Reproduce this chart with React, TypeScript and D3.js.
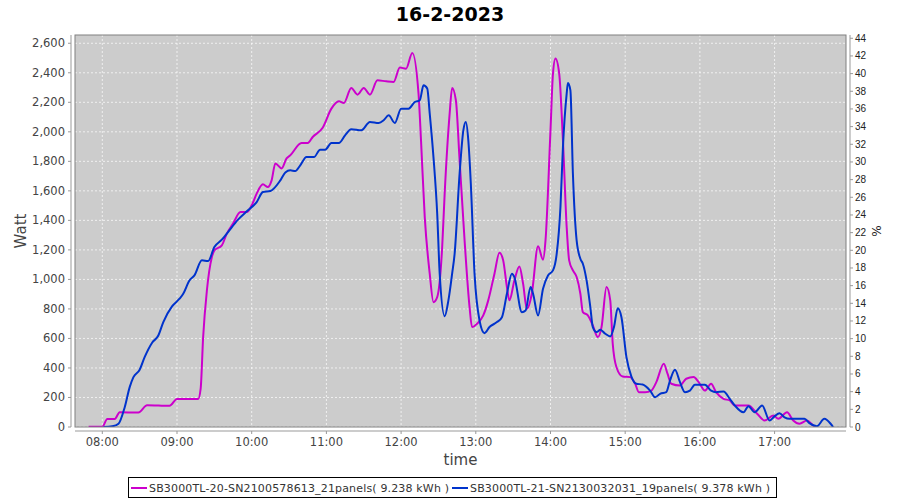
import React from "react";
import * as d3 from "d3";

const title = "16-2-2023";
const seriesNames = [
  "SB3000TL-20-SN2100578613_21panels( 9.238 kWh )",
  "SB3000TL-21-SN2130032031_19panels( 9.378 kWh )",
];
const seriesColors = ["#cc00cc", "#0033cc"];
const leftTicks = [0, 200, 400, 600, 800, 1000, 1200, 1400, 1600, 1800, 2000, 2200, 2400, 2600];
const rightTicks = [0, 2, 4, 6, 8, 10, 12, 14, 16, 18, 20, 22, 24, 26, 28, 30, 32, 34, 36, 38, 40, 42, 44];
const hourTicks = ["08:00", "09:00", "10:00", "11:00", "12:00", "13:00", "14:00", "15:00", "16:00", "17:00"];

const magentaTimes = [
  "07:49", "08:00", "08:04", "08:10", "08:14", "08:29", "08:36", "08:54", "09:00", "09:17",
  "09:19", "09:21", "09:24", "09:28", "09:30", "09:36", "09:40", "09:45", "09:51", "09:56",
  "10:00", "10:04", "10:09", "10:13", "10:16", "10:19", "10:24", "10:28", "10:31", "10:40",
  "10:45", "10:49", "10:57", "11:04", "11:10", "11:14", "11:20", "11:25", "11:30", "11:35",
  "11:41", "11:48", "11:54", "11:59", "12:04", "12:09", "12:14", "12:16", "12:19", "12:23",
  "12:26", "12:29", "12:33", "12:35", "12:39", "12:41", "12:44", "12:47", "12:51", "12:55",
  "12:57", "13:01", "13:06", "13:10", "13:15", "13:19", "13:22", "13:25", "13:27", "13:31",
  "13:35", "13:38", "13:41", "13:45", "13:50", "13:54", "13:56", "14:00", "14:02", "14:04",
  "14:07", "14:10", "14:13", "14:15", "14:18", "14:21", "14:24", "14:26", "14:30", "14:34",
  "14:38", "14:41", "14:45", "14:48", "14:50", "14:53", "14:58", "15:04", "15:08", "15:11",
  "15:16", "15:21", "15:25", "15:31", "15:34", "15:37", "15:44", "15:49", "15:55", "15:59",
  "16:04", "16:09", "16:13", "16:19", "16:24", "16:28", "16:39", "16:46", "16:52", "16:59",
  "17:03", "17:10", "17:15", "17:20", "17:26", "17:31", "17:33",
];
const magentaValues = [
  2, 2, 55, 55, 100, 98, 148, 144, 190, 190,
  260, 609, 925, 1151, 1197, 1231, 1310, 1378, 1456, 1456,
  1502, 1581, 1644, 1626, 1671, 1786, 1752, 1820, 1841, 1924,
  1924, 1965, 2028, 2157, 2207, 2195, 2297, 2252, 2297, 2252,
  2349, 2342, 2338, 2435, 2428, 2534, 2259, 1942, 1422, 1039,
  846, 880, 1219, 1581, 2123, 2297, 2214, 1807, 1264, 812,
  677, 700, 756, 858, 1039, 1181, 1129, 948, 858, 993,
  1088, 971, 801, 903, 1224, 1134, 1264, 2010, 2395, 2496,
  2395, 1942, 1355, 1129, 1061, 1016, 903, 778, 756, 688,
  609, 677, 948, 858, 564, 405, 342, 338, 293, 236,
  236, 247, 304, 428, 361, 293, 281, 327, 338, 304,
  247, 293, 236, 191, 180, 146, 146, 90, 44, 78,
  56, 100, 44, 22, 44, 10, 0,
];

const blueTimes = [
  "08:01", "08:08", "08:13", "08:18", "08:22", "08:25", "08:30", "08:34", "08:40", "08:45",
  "08:49", "08:56", "09:02", "09:05", "09:10", "09:14", "09:20", "09:25", "09:30", "09:36",
  "09:41", "09:49", "09:57", "10:04", "10:09", "10:15", "10:23", "10:27", "10:31", "10:35",
  "10:39", "10:44", "10:50", "10:55", "10:59", "11:04", "11:10", "11:15", "11:20", "11:28",
  "11:35", "11:42", "11:46", "11:50", "11:55", "12:00", "12:06", "12:11", "12:15", "12:18",
  "12:21", "12:23", "12:26", "12:29", "12:31", "12:35", "12:38", "12:41", "12:43", "12:47",
  "12:50", "12:52", "12:54", "12:56", "12:59", "13:03", "13:07", "13:11", "13:17", "13:21",
  "13:25", "13:29", "13:31", "13:37", "13:40", "13:44", "13:46", "13:50", "13:54", "13:58",
  "14:02", "14:05", "14:08", "14:10", "14:13", "14:14", "14:16", "14:18", "14:21", "14:24",
  "14:26", "14:29", "14:32", "14:34", "14:37", "14:40", "14:44", "14:48", "14:51", "14:54",
  "14:57", "15:01", "15:05", "15:09", "15:14", "15:20", "15:24", "15:28", "15:33", "15:36",
  "15:40", "15:44", "15:48", "15:52", "15:56", "16:04", "16:09", "16:13", "16:19", "16:24",
  "16:28", "16:35", "16:39", "16:44", "16:50", "16:56", "17:00", "17:04", "17:08", "17:12",
  "17:24", "17:28", "17:34", "17:40", "17:45", "17:47",
];
const blueValues = [
  0, 5, 22, 134, 270, 338, 388, 473, 571, 620,
  711, 817, 869, 903, 993, 1027, 1129, 1124, 1219, 1269,
  1321, 1405, 1468, 1524, 1592, 1599, 1671, 1725, 1739, 1734,
  1773, 1829, 1829, 1879, 1879, 1924, 1924, 1976, 2017, 2010,
  2067, 2060, 2078, 2112, 2060, 2157, 2157, 2202, 2214, 2315,
  2293, 2123, 1829, 1446, 1039, 751, 858, 1039, 1174, 1717,
  2010, 2067, 1942, 1650, 1039, 722, 636, 677, 711, 744,
  903, 1039, 1016, 778, 790, 948, 903, 756, 937, 1027,
  1061, 1174, 1490, 1897, 2259, 2331, 2281, 1717, 1264, 1140,
  1106, 993, 812, 677, 643, 659, 632, 614, 677, 805,
  744, 473, 342, 293, 288, 247, 202, 225, 236, 315,
  388, 304, 236, 247, 286, 286, 247, 236, 241, 191,
  146, 100, 141, 100, 146, 44, 73, 94, 66, 56,
  56, 26, 5, 56, 22, 0,
];

const W = 900;
const H = 500;
const plot = { left: 75, right: 846, top: 35, bottom: 427 };

const parse = (s: string) => {
  const [h, m] = s.split(":").map(Number);
  return new Date(2023, 1, 16, h, m);
};

export default function App() {
  const x = d3
    .scaleTime()
    .domain([new Date(2023, 1, 16, 7, 38, 4), new Date(2023, 1, 16, 17, 57, 22)])
    .range([plot.left, plot.right]);
  const y = d3.scaleLinear().domain([0, 2656]).range([plot.bottom, plot.top]);
  const yR = d3.scaleLinear().domain([0, 44.37]).range([plot.bottom, plot.top]);

  const line = d3
    .line<[Date, number]>()
    .x((d) => x(d[0]))
    .y((d) => y(d[1]))
    .curve(d3.curveMonotoneX);

  const series = [
    magentaTimes.map((t, i) => [parse(t), magentaValues[i]] as [Date, number]),
    blueTimes.map((t, i) => [parse(t), blueValues[i]] as [Date, number]),
  ];

  const font = "'DejaVu Sans', sans-serif";
  const axisColor = "#444";

  return (
    <svg width={W} height={H} style={{ position: "absolute", left: 0, top: 0, background: "#fff" }}>
      <text x={450} y={21} textAnchor="middle" fontFamily={font} fontWeight="bold" fontSize={19} fill="#000">
        {title}
      </text>
      <rect x={plot.left} y={plot.top} width={plot.right - plot.left} height={plot.bottom - plot.top} fill="#cccccc" />
      <clipPath id="clip">
        <rect x={plot.left} y={plot.top} width={plot.right - plot.left} height={plot.bottom - plot.top} />
      </clipPath>
      {leftTicks.map((v) => (
        <line key={"gy" + v} x1={plot.left} x2={plot.right} y1={y(v)} y2={y(v)} stroke="#fff" strokeWidth={0.7} strokeDasharray="2,2" />
      ))}
      {hourTicks.map((t) => (
        <line key={"gx" + t} x1={x(parse(t))} x2={x(parse(t))} y1={plot.top} y2={plot.bottom} stroke="#fff" strokeWidth={0.7} strokeDasharray="2,2" />
      ))}
      <g clipPath="url(#clip)">
        {series.map((s, i) => (
          <path key={i} d={line(s) || ""} fill="none" stroke={seriesColors[i]} strokeWidth={2} strokeLinejoin="round" />
        ))}
      </g>
      <rect x={plot.left} y={plot.top} width={plot.right - plot.left} height={plot.bottom - plot.top} fill="none" stroke="#808080" strokeWidth={1} />

      {/* left axis */}
      <line x1={71} x2={71} y1={plot.top} y2={plot.bottom} stroke="#999" />
      {leftTicks.map((v) => (
        <g key={"ly" + v}>
          <line x1={68} x2={71} y1={y(v)} y2={y(v)} stroke="#999" />
          <text x={65} y={y(v) + 4} textAnchor="end" fontFamily={font} fontSize={11.5} fill={axisColor}>
            {d3.format(",")(v)}
          </text>
        </g>
      ))}
      <text transform={`translate(26,${(plot.top + plot.bottom) / 2}) rotate(-90)`} textAnchor="middle" fontFamily={font} fontSize={15} fill={axisColor}>
        Watt
      </text>

      {/* right axis */}
      <line x1={850} x2={850} y1={plot.top} y2={plot.bottom} stroke="#999" />
      {rightTicks.map((v) => (
        <g key={"ry" + v}>
          <line x1={850} x2={853} y1={yR(v)} y2={yR(v)} stroke="#999" />
          <text x={855} y={yR(v) + 3.5} textAnchor="start" fontFamily="'Liberation Sans', sans-serif" fontSize={10} fill="#222">
            {v}
          </text>
        </g>
      ))}
      <text transform={`translate(881,${(plot.top + plot.bottom) / 2}) rotate(-90)`} textAnchor="middle" fontFamily={font} fontSize={12} fill="#222">
        %
      </text>

      {/* bottom axis */}
      <line x1={plot.left} x2={plot.right} y1={431} y2={431} stroke="#999" />
      {hourTicks.map((t) => (
        <g key={"bx" + t}>
          <line x1={x(parse(t))} x2={x(parse(t))} y1={431} y2={434} stroke="#999" />
          <text x={x(parse(t))} y={446} textAnchor="middle" fontFamily={font} fontSize={11.5} fill={axisColor}>
            {t}
          </text>
        </g>
      ))}
      <text x={(plot.left + plot.right) / 2} y={465} textAnchor="middle" fontFamily={font} fontSize={15} fill={axisColor}>
        time
      </text>

      {/* legend */}
      <rect x={128.5} y={477.5} width={648} height={20} fill="#fff" stroke="#000" />
      <line x1={131} x2={147} y1={488} y2={488} stroke={seriesColors[0]} strokeWidth={2} />
      <text x={149} y={492} fontFamily={font} fontSize={11} fill="#333" textLength={300}>
        {seriesNames[0]}
      </text>
      <line x1={452} x2={468} y1={488} y2={488} stroke={seriesColors[1]} strokeWidth={2} />
      <text x={470} y={492} fontFamily={font} fontSize={11} fill="#333" textLength={300}>
        {seriesNames[1]}
      </text>
    </svg>
  );
}
